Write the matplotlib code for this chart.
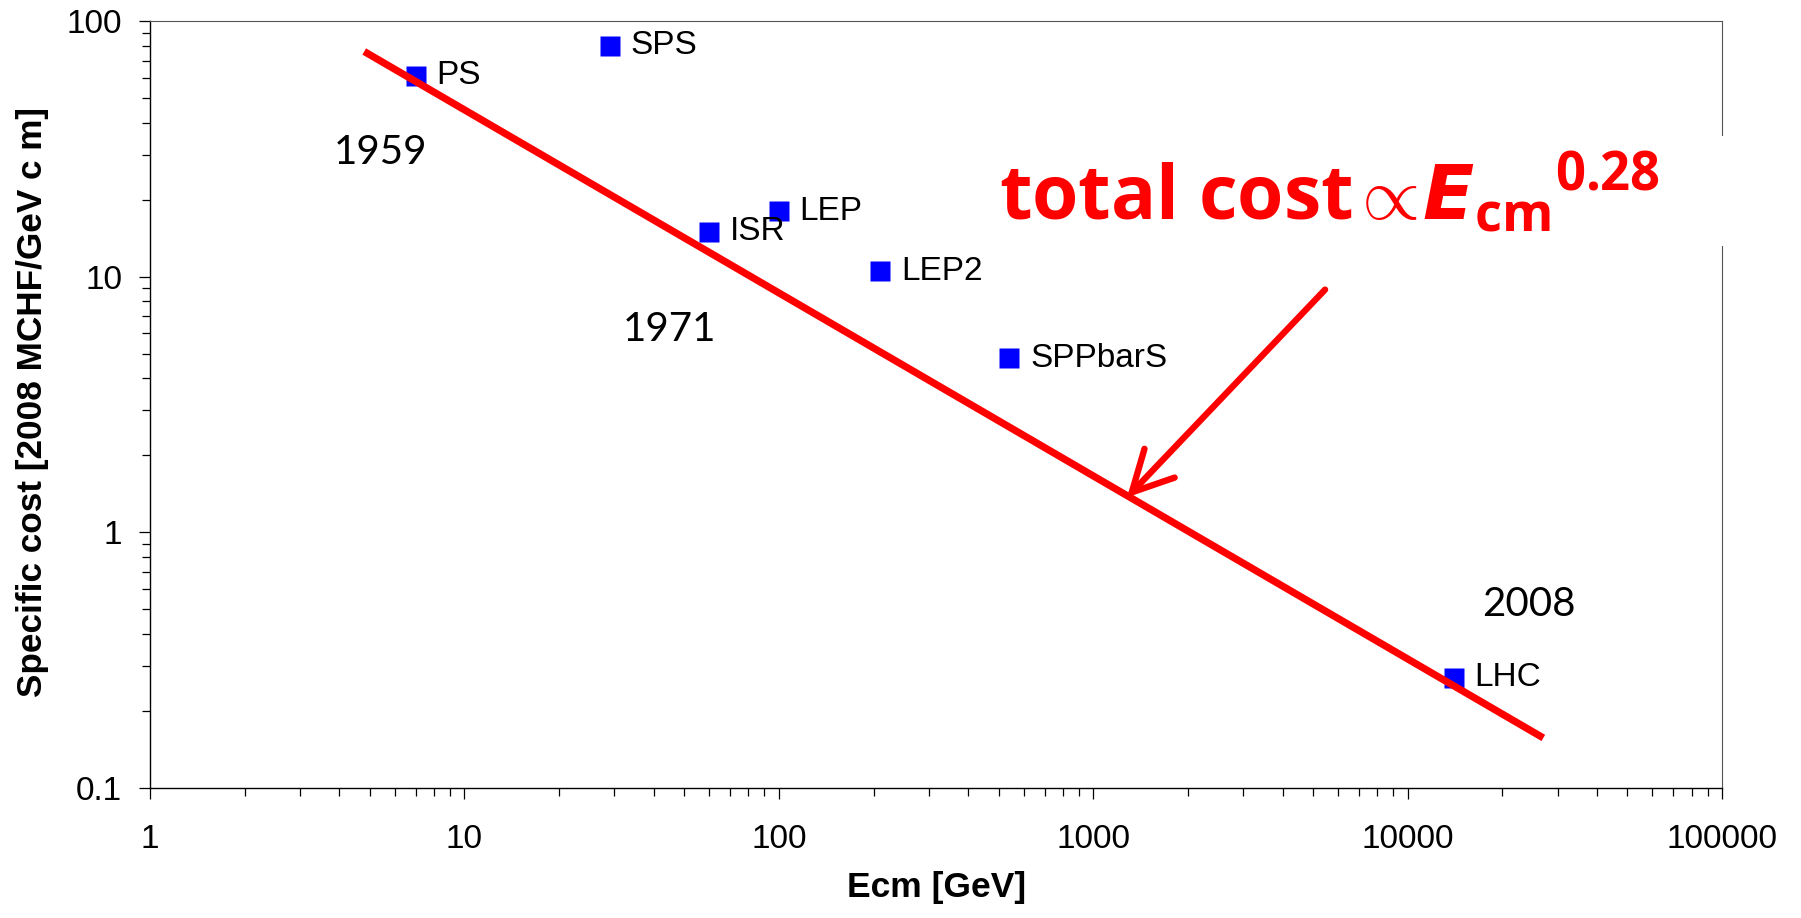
import matplotlib
matplotlib.use("Agg")
import matplotlib.pyplot as plt
from matplotlib.patches import Rectangle
from matplotlib.ticker import FixedLocator, FuncFormatter, LogLocator, NullFormatter

# accelerators: centre-of-mass energy [GeV] vs specific cost [2008 MCHF/GeV c m]
machines = ["PS", "SPS", "ISR", "LEP", "LEP2", "SPPbarS", "LHC"]
ecm = [7, 29, 60, 100, 210, 540, 14000]
spec_cost = [61, 80, 15, 18, 10.5, 4.8, 0.27]

# power-law trend line (specific cost ~ Ecm^-0.72, i.e. total cost ~ Ecm^0.28)
fit_ecm = [4.8, 27000]
fit_cost = [76, 0.157]

years = ["1959", "1971", "2008"]
year_ecm = [5.4, 45, 24300]
year_cost = [30.5, 6.2, 0.52]

arrow_start = (5460, 8.9)
arrow_end = (1280, 1.37)

xticks = [1, 10, 100, 1000, 10000, 100000]
yticks = [0.1, 1, 10, 100]

plt.rcParams["font.family"] = ["Liberation Sans", "DejaVu Sans"]
plt.rcParams["mathtext.fontset"] = "custom"
plt.rcParams["mathtext.rm"] = "Open Sans"
plt.rcParams["mathtext.bf"] = "Open Sans:bold"
plt.rcParams["mathtext.bfit"] = "DejaVu Sans:italic:bold"

fig = plt.figure(figsize=(18.01, 9.18), dpi=100)
ax = fig.add_axes([0.0833, 0.1416, 0.8729, 0.8355])

ax.plot(ecm, spec_cost, "s", color="#0000ff", ms=13.7, mec="none", zorder=3)
ax.plot(fit_ecm, fit_cost, color="#ff0000", lw=5.2, solid_capstyle="butt", zorder=4)

for name, x, y in zip(machines, ecm, spec_cost):
    ax.annotate(name, (x, y), xytext=(15, 0), textcoords="offset points",
                fontsize=24, ha="left", va="center", zorder=5)

for yr, x, y in zip(years, year_ecm, year_cost):
    ax.text(x, y, yr, fontsize=29, family="Lato", ha="center", va="center")

ax.annotate("", xy=arrow_end, xytext=arrow_start,
            arrowprops=dict(arrowstyle="->,head_length=1.45,head_width=0.75",
                            color="#ff0000", lw=4.6, mutation_scale=20,
                            shrinkA=0, shrinkB=0))

ax.set_xscale("log")
ax.set_yscale("log")
ax.set_xlim(1, 1e5)
ax.set_ylim(0.1, 100)

ax.xaxis.set_major_locator(FixedLocator(xticks))
ax.yaxis.set_major_locator(FixedLocator(yticks))
ax.xaxis.set_minor_locator(LogLocator(base=10, subs=range(2, 10), numticks=50))
ax.yaxis.set_minor_locator(LogLocator(base=10, subs=range(2, 10), numticks=50))
plain = FuncFormatter(lambda v, pos: "{:g}".format(v))
ax.xaxis.set_major_formatter(plain)
ax.yaxis.set_major_formatter(plain)
ax.xaxis.set_minor_formatter(NullFormatter())
ax.yaxis.set_minor_formatter(NullFormatter())

ax.tick_params(which="both", direction="out", width=0.9, color="black",
               top=False, right=False)
ax.tick_params(which="major", length=8, labelsize=24)
ax.tick_params(axis="x", which="major", pad=18)
ax.tick_params(axis="y", which="major", pad=12)
ax.tick_params(which="minor", length=6)

for side in ["left", "bottom"]:
    ax.spines[side].set_color("black")
    ax.spines[side].set_linewidth(1.0)
for side in ["top", "right"]:
    ax.spines[side].set_color("#555555")
    ax.spines[side].set_linewidth(0.8)

ax.set_xlabel("Ecm [GeV]", fontsize=25.5, fontweight="bold")
ax.set_ylabel("Specific cost [2008 MCHF/GeV c m]", fontsize=25.3, fontweight="bold")
ax.xaxis.set_label_coords(0.5, -0.108)
ax.yaxis.set_label_coords(-0.064, 0.503)

# white panel behind the headline, covering the right frame
ax.add_patch(Rectangle((0.534, 0.7067), 0.48, 0.1434, transform=ax.transAxes,
                       facecolor="white", edgecolor="none", clip_on=False, zorder=6))
ax.text(0.540, 0.742,
        r"total cost$\hspace{-0.08}\propto\!{\mathbfit{E}_{\mathbf{cm}}}^{\mathbf{0.28}}$",
        transform=ax.transAxes, color="#ff0000", fontsize=54, fontweight="bold",
        family="Open Sans", va="baseline", ha="left", zorder=7)

fig.savefig("out.png", dpi=100)
